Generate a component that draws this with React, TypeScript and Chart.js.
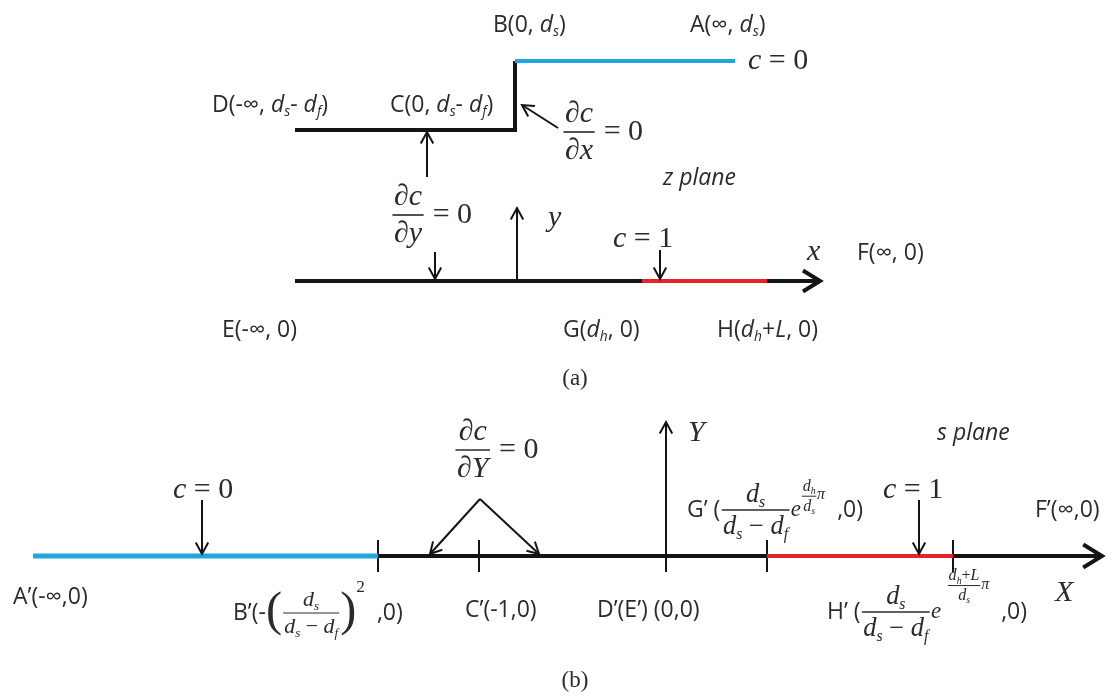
import React, { useEffect, useRef } from 'react';
import { Chart, registerables } from 'chart.js';

Chart.register(...registerables);

type Pt = [number, number];

// ---------- (a) z plane ----------
const zBoundaryBlack: Pt[] = [[295, 130], [515, 130], [515, 61]];
const zBoundaryBlue: Pt[] = [[515, 61], [735, 61]];
const zAxisX: Pt[] = [[295, 281], [820, 281]];
const zAxisRed: Pt[] = [[642, 281], [767, 281]];
const zAxisY: Pt[] = [[517, 281], [517, 208]];
const zArrowToC: Pt[] = [[427, 177], [427, 132]];
const zArrowToAxis: Pt[] = [[435, 252], [435, 279]];
const zArrowDx: Pt[] = [[558, 128], [522, 105]];
const zArrowC1: Pt[] = [[660, 250], [660, 279]];

// ---------- (b) s plane ----------
const sAxisX: Pt[] = [[378, 556], [1102, 556]];
const sAxisBlue: Pt[] = [[33, 556], [378, 556]];
const sAxisRed: Pt[] = [[767, 556], [953, 556]];
const sAxisY: Pt[] = [[666, 572], [666, 422]];
const sTickX: number[] = [378, 479, 767, 953];
const sTickY: Pt = [540, 572];
const sArrowC0: Pt[] = [[202, 500], [202, 554]];
const sArrowC1: Pt[] = [[919, 500], [919, 554]];
const sArrowLeft: Pt[] = [[480, 499], [430, 554]];
const sArrowRight: Pt[] = [[480, 499], [539, 554]];

// ---------- text ----------
type Run = { t: string; f?: 's' | 'si' | 'm' | 'mi'; k?: number; dy?: number };
type Frac = { num: Run[]; den: Run[]; k?: number; dy?: number };
type Part = Run | Frac;
type Label = { x: number; y: number; size: number; parts: Part[]; center?: boolean };

const sub = (t: string, f: 'si' | 'mi' = 'si'): Run => ({ t, f, k: 0.6, dy: 0.3 });
const dS = (f: 'si' | 'mi' = 'si'): Run[] => [{ t: 'd', f }, sub('s', f)];
const dF = (f: 'si' | 'mi' = 'si'): Run[] => [{ t: 'd', f }, sub('f', f)];
const dH = (f: 'si' | 'mi' = 'si'): Run[] => [{ t: 'd', f }, sub('h', f)];
const m = (t: string): Run => ({ t, f: 'm' });
const mi = (t: string): Run => ({ t, f: 'mi' });
const dsMinusDf = (): Run[] => [...dS('mi'), m(' − '), ...dF('mi')];

const SZ = 23; // sans labels
const MZ = 30; // math labels

const labels: Label[] = [
  // (a)
  { x: 493, y: 25, size: SZ, parts: [{ t: 'B(0, ' }, ...dS(), { t: ')' }] },
  { x: 690, y: 25, size: SZ, parts: [{ t: 'A(∞, ' }, ...dS(), { t: ')' }] },
  { x: 748, y: 61, size: MZ, parts: [mi('c'), m(' = 0')] },
  { x: 212, y: 105, size: SZ, parts: [{ t: 'D(-∞, ' }, ...dS(), { t: '- ' }, ...dF(), { t: ')' }] },
  { x: 390, y: 105, size: SZ, parts: [{ t: 'C(0, ' }, ...dS(), { t: '- ' }, ...dF(), { t: ')' }] },
  { x: 562, y: 132, size: MZ, parts: [{ num: [mi('∂c')], den: [mi('∂x')] }, m(' = 0')] },
  { x: 663, y: 178, size: SZ, parts: [{ t: 'z plane', f: 'si' }] },
  { x: 391, y: 215, size: MZ, parts: [{ num: [mi('∂c')], den: [mi('∂y')] }, m(' = 0')] },
  { x: 548, y: 218, size: MZ, parts: [mi('y')] },
  { x: 613, y: 239, size: MZ, parts: [mi('c'), m(' = 1')] },
  { x: 807, y: 252, size: MZ, parts: [mi('x')] },
  { x: 857, y: 253, size: SZ, parts: [{ t: 'F(∞, 0)' }] },
  { x: 222, y: 330, size: SZ, parts: [{ t: 'E(-∞, 0)' }] },
  { x: 563, y: 330, size: SZ, parts: [{ t: 'G(' }, ...dH(), { t: ', 0)' }] },
  { x: 717, y: 330, size: SZ, parts: [{ t: 'H(' }, ...dH(), { t: '+' }, { t: 'L', f: 'si' }, { t: ', 0)' }] },
  { x: 575, y: 379, size: 23, center: true, parts: [m('(a)')] },
  // (b)
  { x: 454, y: 450, size: MZ, parts: [{ num: [mi('∂c')], den: [mi('∂Y')] }, m(' = 0')] },
  { x: 688, y: 433, size: MZ, parts: [mi('Y')] },
  { x: 937, y: 433, size: SZ, parts: [{ t: 's plane', f: 'si' }] },
  { x: 173, y: 490, size: MZ, parts: [mi('c'), m(' = 0')] },
  { x: 883, y: 490, size: MZ, parts: [mi('c'), m(' = 1')] },
  {
    x: 687, y: 510, size: SZ, parts: [
      { t: 'G’ (' },
      { num: dS('mi'), den: dsMinusDf(), k: 1.15 },
      mi('e'),
      { num: dH('mi'), den: dS('mi'), k: 0.7, dy: -0.6 },
      { t: 'π', f: 'mi', k: 0.7, dy: -0.68 },
      { t: '  ,0)' },
    ],
  },
  { x: 1035, y: 510, size: SZ, parts: [{ t: 'F’(∞,0)' }] },
  { x: 1055, y: 593, size: MZ, parts: [mi('X')] },
  { x: 13, y: 597, size: SZ, parts: [{ t: 'A’(-∞,0)' }] },
  {
    x: 233, y: 613, size: SZ, parts: [
      { t: 'B’(-' },
      { t: '(', f: 'm', k: 2.1, dy: -0.05 },
      { num: dS('mi'), den: dsMinusDf(), k: 0.95 },
      { t: ')', f: 'm', k: 2.1, dy: -0.05 },
      { t: '2', f: 'm', k: 0.75, dy: -1.1 },
      { t: '  ,0)' },
    ],
  },
  { x: 465, y: 610, size: SZ, parts: [{ t: 'C’(-1,0)' }] },
  { x: 597, y: 610, size: SZ, parts: [{ t: 'D’(E’) (0,0)' }] },
  {
    x: 827, y: 612, size: SZ, parts: [
      { t: 'H’ (' },
      { num: dS('mi'), den: dsMinusDf(), k: 1.15 },
      mi('e '),
      { num: [...dH('mi'), m('+'), mi('L')], den: dS('mi'), k: 0.7, dy: -1.15 },
      { t: 'π', f: 'mi', k: 0.7, dy: -1.2 },
      { t: '  ,0)' },
    ],
  },
  { x: 575, y: 681, size: 23, center: true, parts: [m('(b)')] },
];

const SANS = '"Open Sans", Lato, sans-serif';
const SERIF = '"Liberation Serif", "DejaVu Serif", serif';
const INK = '#2b2b2b';
const BLACK = '#141414';
const BLUE = '#21a5df';
const RED = '#e5232b';

function fontOf(f: Run['f'] = 's', px: number) {
  const ital = f === 'si' || f === 'mi';
  const fam = f === 's' || f === 'si' ? SANS : SERIF;
  return `${ital ? 'italic ' : ''}${px}px ${fam}`;
}

function runsWidth(ctx: CanvasRenderingContext2D, runs: Run[], px: number) {
  let w = 0;
  for (const r of runs) {
    ctx.font = fontOf(r.f, px * (r.k ?? 1));
    w += ctx.measureText(r.t).width;
  }
  return w;
}

function drawRuns(ctx: CanvasRenderingContext2D, runs: Run[], x: number, y: number, px: number) {
  for (const r of runs) {
    ctx.font = fontOf(r.f, px * (r.k ?? 1));
    ctx.fillText(r.t, x, y + (r.dy ?? 0) * px);
    x += ctx.measureText(r.t).width;
  }
  return x;
}

function partWidth(ctx: CanvasRenderingContext2D, p: Part, base: number) {
  if ('num' in p) {
    const px = base * (p.k ?? 1);
    return Math.max(runsWidth(ctx, p.num, px), runsWidth(ctx, p.den, px)) + px * 0.2;
  }
  return runsWidth(ctx, [p], base);
}

function drawPart(ctx: CanvasRenderingContext2D, p: Part, x: number, y: number, base: number) {
  if ('num' in p) {
    const px = base * (p.k ?? 1);
    const fy = y + (p.dy ?? 0) * base;
    const wn = runsWidth(ctx, p.num, px);
    const wd = runsWidth(ctx, p.den, px);
    const W = Math.max(wn, wd) + px * 0.2;
    ctx.save();
    ctx.strokeStyle = INK;
    ctx.lineWidth = Math.max(1, px * 0.055);
    ctx.beginPath();
    ctx.moveTo(x + px * 0.05, fy);
    ctx.lineTo(x + W - px * 0.05, fy);
    ctx.stroke();
    ctx.restore();
    drawRuns(ctx, p.num, x + (W - wn) / 2, fy - px * 0.58, px);
    drawRuns(ctx, p.den, x + (W - wd) / 2, fy + px * 0.64, px);
    return x + W;
  }
  return drawRuns(ctx, [p], x, y, base);
}

const textPlugin = {
  id: 'richLabels',
  afterDraw(chart: any) {
    const ctx: CanvasRenderingContext2D = chart.ctx;
    const sx = chart.scales.x;
    const sy = chart.scales.y;
    ctx.save();
    ctx.fillStyle = INK;
    ctx.textBaseline = 'middle';
    ctx.textAlign = 'left';
    for (const L of labels) {
      let x = sx.getPixelForValue(L.x);
      const y = sy.getPixelForValue(L.y);
      if (L.center) {
        const w = L.parts.reduce((a, p) => a + partWidth(ctx, p, L.size), 0);
        x -= w / 2;
      }
      for (const p of L.parts) x = drawPart(ctx, p, x, y, L.size);
    }
    ctx.restore();
  },
};

const arrowPlugin = {
  id: 'arrowHeads',
  afterDatasetsDraw(chart: any) {
    const ctx: CanvasRenderingContext2D = chart.ctx;
    chart.data.datasets.forEach((ds: any, i: number) => {
      const a = ds.arrow;
      if (!a) return;
      const pts = chart.getDatasetMeta(i).data;
      const p1 = pts[pts.length - 2];
      const p2 = pts[pts.length - 1];
      const ang = Math.atan2(p2.y - p1.y, p2.x - p1.x);
      ctx.save();
      ctx.strokeStyle = ds.borderColor;
      ctx.lineWidth = a.w;
      ctx.lineCap = 'butt';
      ctx.lineJoin = 'miter';
      ctx.beginPath();
      ctx.moveTo(p2.x - a.len * Math.cos(ang - a.spread), p2.y - a.len * Math.sin(ang - a.spread));
      ctx.lineTo(p2.x, p2.y);
      ctx.lineTo(p2.x - a.len * Math.cos(ang + a.spread), p2.y - a.len * Math.sin(ang + a.spread));
      ctx.stroke();
      ctx.restore();
    });
  },
};

function seg(pts: Pt[], color: string, width: number, order: number, arrow?: { len: number; spread: number; w: number }) {
  return {
    data: pts.map(([x, y]) => ({ x, y })),
    showLine: true,
    borderColor: color,
    backgroundColor: color,
    borderWidth: width,
    pointRadius: 0,
    pointHoverRadius: 0,
    tension: 0,
    fill: false,
    clip: false as any,
    order,
    borderCapStyle: 'butt',
    borderJoinStyle: 'miter',
    arrow,
  };
}

const bigHead = { len: 20, spread: 0.55, w: 4 };
const smallHead = { len: 13, spread: 0.5, w: 2 };

export default function App() {
  const ref = useRef<HTMLCanvasElement | null>(null);
  useEffect(() => {
    if (!ref.current) return;
    const datasets: any[] = [
      seg(zBoundaryBlack, BLACK, 4, 2),
      seg(zBoundaryBlue, BLUE, 4, 0),
      seg(zAxisX, BLACK, 4, 2, bigHead),
      seg(zAxisRed, RED, 4, 0),
      seg(zAxisY, BLACK, 2, 2, smallHead),
      seg(zArrowToC, BLACK, 2, 2, smallHead),
      seg(zArrowToAxis, BLACK, 2, 2, smallHead),
      seg(zArrowDx, BLACK, 2, 2, smallHead),
      seg(zArrowC1, BLACK, 2, 2, smallHead),
      seg(sAxisX, BLACK, 4, 2, { len: 22, spread: 0.55, w: 4 }),
      seg(sAxisBlue, BLUE, 5, 0),
      seg(sAxisRed, RED, 4, 0),
      seg(sAxisY, BLACK, 2, 2, smallHead),
      ...sTickX.map((x) => seg([[x, sTickY[0]], [x, sTickY[1]]], BLACK, 2, 1)),
      seg(sArrowC0, BLACK, 2, 2, smallHead),
      seg(sArrowC1, BLACK, 2, 2, smallHead),
      seg(sArrowLeft, BLACK, 2, 2, smallHead),
      seg(sArrowRight, BLACK, 2, 2, smallHead),
    ];
    const chart = new Chart(ref.current, {
      type: 'scatter',
      data: { datasets },
      options: {
        animation: false,
        responsive: true,
        maintainAspectRatio: false,
        events: [],
        layout: { padding: 0 },
        plugins: { legend: { display: false }, tooltip: { enabled: false } },
        scales: {
          x: { type: 'linear', min: 0, max: 1120, display: false },
          y: { type: 'linear', min: 0, max: 699, reverse: true, display: false },
        },
      },
      plugins: [arrowPlugin, textPlugin],
    } as any);
    return () => chart.destroy();
  }, []);
  return (
    <div style={{ position: 'absolute', left: 0, top: 0, width: 1120, height: 699, background: '#fff' }}>
      <canvas ref={ref} />
    </div>
  );
}
